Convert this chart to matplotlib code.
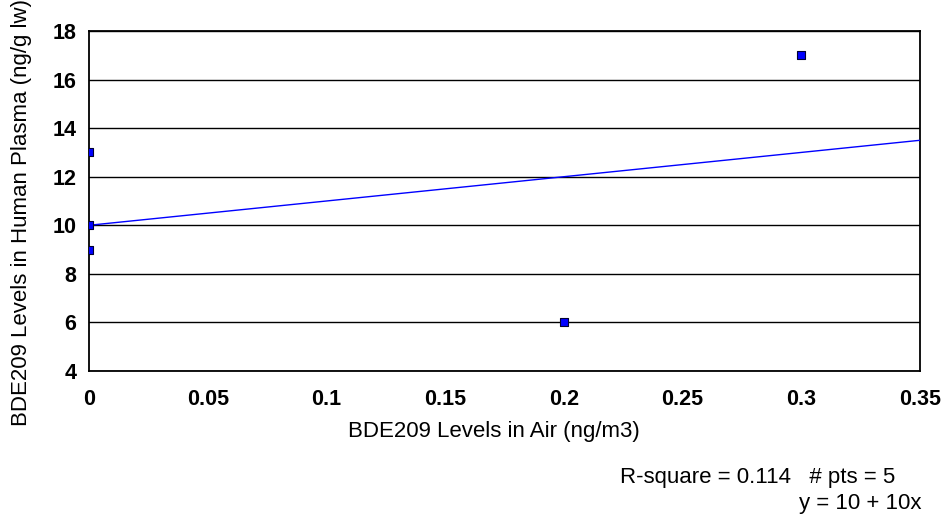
import matplotlib
matplotlib.use("Agg")
import matplotlib.pyplot as plt
import numpy as np

plt.rcParams['font.family'] = ['Liberation Sans', 'DejaVu Sans']

air = [0.0, 0.0, 0.0, 0.2, 0.3]
plasma = [13, 10, 9, 6, 17]
intercept = 10
slope = 10
r_square = 0.114
x_ticks = [0, 0.05, 0.1, 0.15, 0.2, 0.25, 0.3, 0.35]
x_tick_labels = ['0', '0.05', '0.1', '0.15', '0.2', '0.25', '0.3', '0.35']
y_ticks = [4, 6, 8, 10, 12, 14, 16, 18]

W, H = 946, 522
fig = plt.figure(figsize=(W / 100, H / 100), dpi=100)
ax = fig.add_axes([89 / W, 1 - 371 / H, (920 - 89) / W, (371 - 31) / H])

ax.set_xlim(0, 0.35)
ax.set_ylim(4, 18)
ax.set_yticks(y_ticks)
ax.set_xticks(x_ticks)
ax.set_xticklabels(x_tick_labels)
ax.yaxis.grid(True, color='black', linewidth=1)
ax.set_axisbelow(True)
for s in ax.spines.values():
    s.set_linewidth(1.3)
    s.set_color('black')
ax.tick_params(axis='x', length=0, pad=13, labelsize=15.5)
ax.tick_params(axis='y', length=0, pad=9, labelsize=15.5)
for lbl in ax.get_xticklabels() + ax.get_yticklabels():
    lbl.set_fontweight('bold')

xl = np.array([0, 0.35])
ax.plot(xl, intercept + slope * xl, color='#0000ff', linewidth=1, zorder=3)
ax.scatter(air, plasma, marker='s', s=36, color='#0000ff', edgecolors='#000033',
           linewidths=0.8, zorder=4, clip_on=True)

fig.text(494 / W, 1 - 432 / H, 'BDE209 Levels in Air (ng/m3)', ha='center', va='center',
         fontsize=16)
fig.text(22 / W, 1 - 213 / H, 'BDE209 Levels in Human Plasma (ng/g lw)', ha='center',
         va='center', rotation=90, fontsize=16)

fig.text(895 / W, 1 - 478 / H, f'R-square = {r_square}   # pts = {len(air)}', ha='right',
         va='center', fontsize=16)
fig.text(921 / W, 1 - 504 / H, f'y = {intercept} + {slope}x', ha='right', va='center',
         fontsize=16)

fig.savefig('out.png', dpi=100)
